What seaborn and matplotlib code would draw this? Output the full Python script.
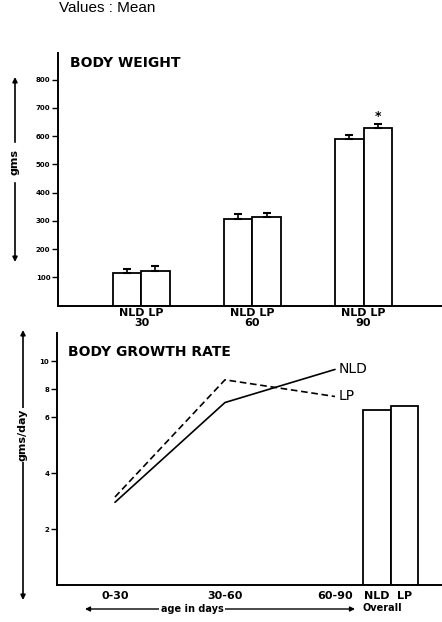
import numpy as np
import pandas as pd
import matplotlib
matplotlib.use('Agg')
import matplotlib.pyplot as plt
import seaborn as sns

# body weight (gms), mean and upper error
ages = ['30', '60', '90']
groups = ['NLD', 'LP']
weight_nld = [115, 306, 589]
weight_lp = [123, 314, 630]
err_nld = [16, 20, 16]
err_lp = [17, 15, 14]

# body growth rate (gms/day)
periods = ['0-30', '30-60', '60-90']
rate_nld = [2.96, 7.04, 9.4]
rate_lp = [3.15, 8.66, 7.47]
overall_rate = [6.52, 6.8]

W, H = 442, 622
sns.set_style('ticks')
plt.rcParams['font.family'] = ['DejaVu Sans']
plt.rcParams.update({'text.color': 'black', 'axes.labelcolor': 'black',
                     'xtick.color': 'black', 'ytick.color': 'black',
                     'axes.edgecolor': 'black'})
fig = plt.figure(figsize=(W / 100, H / 100), dpi=100)


def box(left, top, right, bottom):
    return [left / W, 1 - bottom / H, (right - left) / W, (bottom - top) / H]


def fy(y):
    return H - y


# ---- top panel: body weight ----
ax1 = fig.add_axes(box(58, 52.7, 442, 305.7))
df_w = pd.DataFrame({
    'age': ages * 2,
    'group': ['NLD'] * 3 + ['LP'] * 3,
    'weight': weight_nld + weight_lp,
})
sns.barplot(data=df_w, x='age', y='weight', hue='group', order=ages,
            hue_order=groups, palette=['white', 'white'], edgecolor='black',
            linewidth=1.3, width=0.505, errorbar=None, legend=False,
            saturation=1, ax=ax1)
for cont, errs in zip(ax1.containers, [err_nld, err_lp]):
    xs = [b.get_x() + b.get_width() / 2 for b in cont]
    hs = [b.get_height() for b in cont]
    ax1.errorbar(xs, hs, yerr=[np.zeros(3), errs], fmt='none', ecolor='black',
                 elinewidth=1.2, capsize=3, capthick=1.5)
# significance mark over LP at 90 days
lp90 = ax1.containers[1][2]
ax1.text(lp90.get_x() + lp90.get_width() / 2, weight_lp[2] + err_lp[2] + 4, '*',
         ha='center', va='bottom', fontsize=9, fontweight='bold')

ax1.set_xlim(-0.752, 2.707)
ax1.set_ylim(0, 895)
ax1.set_yticks(range(100, 900, 100))
ax1.set_yticklabels([str(v) for v in range(100, 900, 100)], fontsize=5,
                    fontweight='bold')
ax1.set_xticks(range(3))
ax1.set_xticklabels(['NLD LP\n' + a for a in ages], fontsize=8,
                    fontweight='bold', linespacing=0.95)
ax1.tick_params(axis='x', length=0, pad=2)
ax1.tick_params(axis='y', length=4, width=1, pad=1.5)
ax1.set_xlabel('')
ax1.set_ylabel('')
for s in ['top', 'right']:
    ax1.spines[s].set_visible(False)
for s in ['left', 'bottom']:
    ax1.spines[s].set_linewidth(1.4)
ax1.text(12 / 384, 0.958, 'BODY WEIGHT', transform=ax1.transAxes,
         fontsize=10, fontweight='bold', va='center')

# ---- bottom panel: body growth rate ----
def fwd(v):
    v = np.asarray(v, dtype=float)
    return np.where(v <= 6, v, 6 + (v - 6) / 2)


def inv(d):
    d = np.asarray(d, dtype=float)
    return np.where(d <= 6, d, 6 + (d - 6) * 2)


ax2 = fig.add_axes(box(57, 333, 442, 585.3))
ax2.set_yscale('function', functions=(fwd, inv))
xpos = np.arange(len(periods))
sns.lineplot(x=xpos, y=rate_nld, color='black', lw=1.2, ax=ax2)
sns.lineplot(x=xpos, y=rate_lp, color='black', lw=1.2, ax=ax2,
             linestyle=(0, (4, 2.2)))
ax2.text(xpos[-1] + 0.03, rate_nld[-1], 'NLD', fontsize=10, va='center')
ax2.text(xpos[-1] + 0.03, rate_lp[-1], 'LP', fontsize=10, va='center')

bar_w = 0.25
bar_x = xpos[-1] + 0.38 + np.arange(2) * bar_w
ax2.bar(bar_x, overall_rate, width=bar_w, color='white', edgecolor='black',
        linewidth=1.3)

ax2.set_xlim(-0.527, 2.973)
ax2.set_ylim(0, 12)
ax2.set_yticks([2, 4, 6, 8, 10])
ax2.set_yticklabels(['2', '4', '6', '8', '10'], fontsize=5, fontweight='bold')
ax2.set_xticks(list(xpos) + list(bar_x))
ax2.set_xticklabels(periods + groups, fontsize=8, fontweight='bold')
ax2.tick_params(axis='x', length=0, pad=4)
ax2.tick_params(axis='y', length=4, width=1, pad=1.5)
for s in ['top', 'right']:
    ax2.spines[s].set_visible(False)
for s in ['left', 'bottom']:
    ax2.spines[s].set_linewidth(1.4)
ax2.text(11 / 385, 0.925, 'BODY GROWTH RATE', transform=ax2.transAxes,
         fontsize=10, fontweight='bold', va='center')

# ---- outside labels and arrows ----
arrow = dict(arrowstyle='<|-|>', color='black', lw=1.2, mutation_scale=7,
             shrinkA=0, shrinkB=0)
ax1.annotate('', xy=(15, fy(77)), xytext=(15, fy(262)),
             xycoords='figure pixels', textcoords='figure pixels',
             arrowprops=arrow)
fig.text(15 / W, 1 - 162 / H, 'gms', rotation=90, ha='center', va='center',
         fontsize=8, fontweight='bold', backgroundcolor='white')
ax2.annotate('', xy=(23, fy(330)), xytext=(23, fy(600)),
             xycoords='figure pixels', textcoords='figure pixels',
             arrowprops=arrow)
fig.text(23 / W, 1 - 435 / H, 'gms/day', rotation=90, ha='center',
         va='center', fontsize=8, fontweight='bold',
         bbox=dict(facecolor='white', edgecolor='none', pad=0.5))
ax2.annotate('', xy=(85, fy(609)), xytext=(355, fy(609)),
             xycoords='figure pixels', textcoords='figure pixels',
             arrowprops=dict(arrowstyle='<|-|>', color='black', lw=1,
                             mutation_scale=7, shrinkA=0, shrinkB=0))
fig.text(192 / W, 1 - 609 / H, 'age in days', ha='center', va='center',
         fontsize=7, fontweight='bold',
         bbox=dict(facecolor='white', edgecolor='none', pad=1))
fig.text(382 / W, 1 - 608 / H, 'Overall', ha='center', va='center',
         fontsize=7, fontweight='bold')

fig.text(107 / W, 1 - 1 / H, 'Values : Mean', ha='center', va='top',
         fontsize=11, family='Liberation Sans')

fig.savefig('out.png', dpi=100)
